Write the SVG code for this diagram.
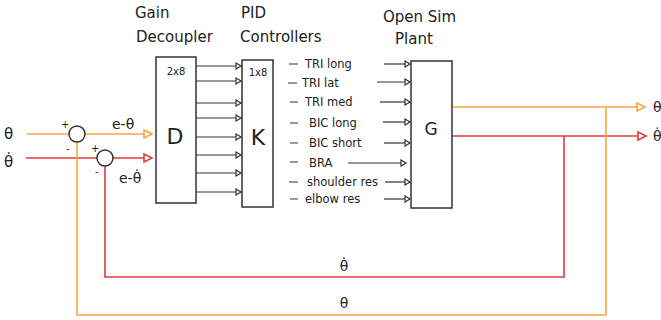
<svg xmlns="http://www.w3.org/2000/svg" width="661" height="320" viewBox="0 0 661 320">
<style>
text{font-family:"DejaVu Sans","Liberation Sans",sans-serif;fill:#222}
.title{font-size:15px}
.box{fill:#fff;stroke:#333;stroke-width:1.5}
.big{font-size:22px}
.small{font-size:10px}
.sig{font-size:11.5px}
.o{fill:none;stroke:#F5A742;stroke-width:1.6}
.r{fill:none;stroke:#E23A3A;stroke-width:1.6}
.k{fill:none;stroke:#333;stroke-width:1.2}
.sum{fill:#fff;stroke:#333;stroke-width:1.5}
</style>
<defs>
<marker id="ao" markerUnits="userSpaceOnUse" markerWidth="12" markerHeight="12" refX="9" refY="5" orient="auto"><path d="M1,1 L9,5 L1,9 z" fill="#fff" stroke="#F5A742" stroke-width="1.6"/></marker>
<marker id="ar" markerUnits="userSpaceOnUse" markerWidth="12" markerHeight="12" refX="9" refY="5" orient="auto"><path d="M1,1 L9,5 L1,9 z" fill="#fff" stroke="#E23A3A" stroke-width="1.6"/></marker>
<marker id="ak" markerUnits="userSpaceOnUse" markerWidth="8" markerHeight="8" refX="6" refY="4" orient="auto"><path d="M1,1 L6,4 L1,7 z" fill="#fff" stroke="#333" stroke-width="1.2"/></marker>
</defs>

<g id="connectors">
<path class="o" d="M27,134 H69"/>
<path class="o" d="M85,134 H152" marker-end="url(#ao)"/>
<path class="r" d="M26,158 H97"/>
<path class="r" d="M113,158 H152" marker-end="url(#ar)"/>
<path class="o" d="M452,107 H645" marker-end="url(#ao)"/>
<path class="r" d="M452,136 H646" marker-end="url(#ar)"/>
<path class="o" d="M606,107 V315 H77 V142"/>
<path class="r" d="M564,136 V277 H105 V166"/>
<g class="k">
<path d="M196,66 H241" marker-end="url(#ak)"/>
<path d="M196,81 H241" marker-end="url(#ak)"/>
<path d="M196,103 H241" marker-end="url(#ak)"/>
<path d="M196,118 H241" marker-end="url(#ak)"/>
<path d="M196,137 H241" marker-end="url(#ak)"/>
<path d="M196,155 H241" marker-end="url(#ak)"/>
<path d="M196,173 H241" marker-end="url(#ak)"/>
<path d="M196,192 H241" marker-end="url(#ak)"/>
<path d="M384,64 H410" marker-end="url(#ak)"/>
<path d="M377,82 H410" marker-end="url(#ak)"/>
<path d="M380,102 H410" marker-end="url(#ak)"/>
<path d="M383,122 H410" marker-end="url(#ak)"/>
<path d="M384,143 H410" marker-end="url(#ak)"/>
<path d="M348,163 H406" marker-end="url(#ak)"/>
<path d="M385,182 H410" marker-end="url(#ak)"/>
<path d="M384,199 H410" marker-end="url(#ak)"/>
<path d="M289,64 H298 M288,83 H297 M290,102 H298 M290,123 H298 M290,143 H298 M290,162 H298 M289,182 H298 M290,199 H298"/>
</g>
</g>

<g id="sum1">
<circle class="sum" cx="77" cy="134" r="8"/>
<text x="61" y="128" class="small">+</text>
<text x="66" y="152" class="small">-</text>
</g>
<g id="sum2">
<circle class="sum" cx="105" cy="158" r="8"/>
<text x="91" y="152" class="small">+</text>
<text x="95" y="175" class="small">-</text>
</g>

<g id="input-labels">
<text x="4" y="139" font-size="15">θ</text>
<text x="4" y="167" font-size="15">θ̇</text>
<text x="112" y="129" font-size="14">e-θ</text>
<text x="119" y="183" font-size="14">e-θ̇</text>
</g>

<g id="decoupler">
<text x="135" y="18" class="title">Gain</text>
<text x="136" y="42" class="title">Decoupler</text>
<rect class="box" x="156" y="57" width="40" height="146"/>
<text x="176" y="75" class="small" text-anchor="middle">2x8</text>
<text x="175" y="144" class="big" text-anchor="middle">D</text>
</g>

<g id="pid">
<text x="241" y="18" class="title">PID</text>
<text x="240" y="42" class="title">Controllers</text>
<rect class="box" x="242" y="60" width="31" height="147"/>
<text x="258" y="76" class="small" text-anchor="middle">1x8</text>
<text x="258" y="145" class="big" text-anchor="middle">K</text>
</g>

<g id="signals">
<text x="305" y="68" class="sig">TRI long</text>
<text x="302" y="87" class="sig">TRI lat</text>
<text x="305" y="106" class="sig">TRI med</text>
<text x="309" y="127" class="sig">BIC long</text>
<text x="309" y="147" class="sig">BIC short</text>
<text x="309" y="167" class="sig">BRA</text>
<text x="307" y="186" class="sig" font-size="10">shoulder res</text>
<text x="305" y="203" class="sig" font-size="10">elbow res</text>
</g>

<g id="plant">
<text x="383" y="22" class="title">Open Sim</text>
<text x="395" y="44" class="title">Plant</text>
<rect class="box" x="411" y="61" width="41" height="147"/>
<text x="431" y="135" font-size="17" text-anchor="middle">G</text>
</g>

<g id="output-labels">
<text x="653" y="112" font-size="14">θ</text>
<text x="653" y="141" font-size="14">θ̇</text>
<text x="344" y="271" font-size="14" text-anchor="middle">θ̇</text>
<text x="344" y="308" font-size="14" text-anchor="middle">θ</text>
</g>
</svg>
